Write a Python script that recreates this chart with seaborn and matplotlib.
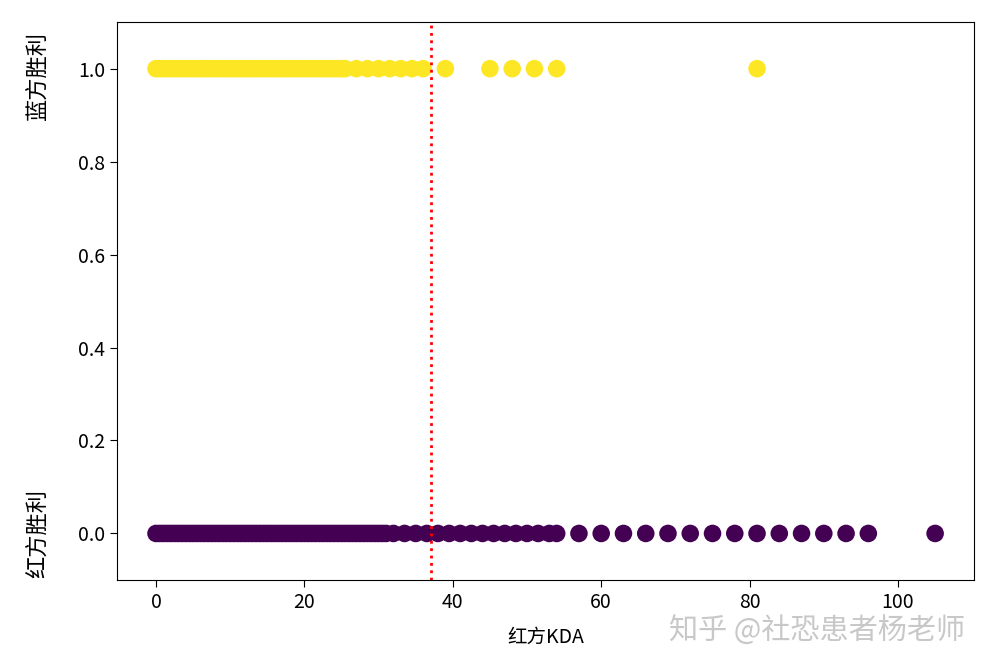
import seaborn as sns
import matplotlib.pyplot as plt
import pandas as pd

# red KDA values for games won by blue side (label 1)
blue_win_kda = [0, 0.5, 1, 1.5, 2, 2.5, 3, 3.5, 4, 4.5, 5, 5.5, 6, 6.5, 7, 7.5,
                8, 8.5, 9, 9.5, 10, 10.5, 11, 11.5, 12, 12.5, 13, 13.5, 14, 14.5,
                15, 15.5, 16, 16.5, 17, 17.5, 18, 18.5, 19, 19.5, 20, 20.5, 21,
                21.5, 22, 22.5, 23, 23.5, 24, 24.5, 25, 25.5, 27, 28.5, 30, 31.5,
                33, 34.5, 36, 39, 45, 48, 51, 54, 81]

# red KDA values for games won by red side (label 0)
red_win_kda = [0, 0.5, 1, 1.5, 2, 2.5, 3, 3.5, 4, 4.5, 5, 5.5, 6, 6.5, 7, 7.5,
               8, 8.5, 9, 9.5, 10, 10.5, 11, 11.5, 12, 12.5, 13, 13.5, 14, 14.5,
               15, 15.5, 16, 16.5, 17, 17.5, 18, 18.5, 19, 19.5, 20, 20.5, 21,
               21.5, 22, 22.5, 23, 23.5, 24, 24.5, 25, 25.5, 26, 26.5, 27, 27.5,
               28, 28.5, 29, 29.5, 30, 30.5, 31, 32, 33.5, 35, 36.5, 38, 39.5,
               41, 42.5, 44, 45.5, 47, 48.5, 50, 51.5, 53, 54, 57, 60, 63, 66,
               69, 72, 75, 78, 81, 84, 87, 90, 93, 96, 105]

threshold = 37

df = pd.DataFrame({
    "kda": red_win_kda + blue_win_kda,
    "result": [0] * len(red_win_kda) + [1] * len(blue_win_kda),
})

plt.rcParams["font.family"] = ["Noto Sans CJK SC", "DejaVu Sans"]
plt.rcParams["axes.unicode_minus"] = False

fig = plt.figure(figsize=(9.97, 6.72), dpi=100)
ax = fig.add_axes([0.1174, 0.137, 0.8596, 0.830])

sns.scatterplot(
    data=df, x="kda", y="result", hue="result",
    palette={0: "#440154", 1: "#fde725"},
    s=160, linewidth=0, alpha=1, legend=False, ax=ax,
)

ax.axvline(threshold, color="red", linestyle=":", linewidth=2)

ax.set_ylim(-0.1, 1.1)
ax.set_yticks([0, 0.2, 0.4, 0.6, 0.8, 1.0])
ax.set_yticklabels(["0.0", "0.2", "0.4", "0.6", "0.8", "1.0"])
ax.tick_params(labelsize=14, length=5)
ax.set_xlabel("红方KDA", fontsize=14, labelpad=10)
ax.set_ylabel("")

# side labels next to the two outcomes
trans = ax.get_yaxis_transform()
ax.text(-0.092, 0.985, "蓝方胜利", transform=trans, rotation=90,
        ha="center", va="center", fontsize=16)
ax.text(-0.092, 0.0, "红方胜利", transform=trans, rotation=90,
        ha="center", va="center", fontsize=16)

# watermark
fig.text(0.82, 0.06, "知乎 @社恐患者杨老师", fontsize=21, color="#c8c8c8",
         ha="center", va="center")

plt.savefig("out.png", dpi=100)
